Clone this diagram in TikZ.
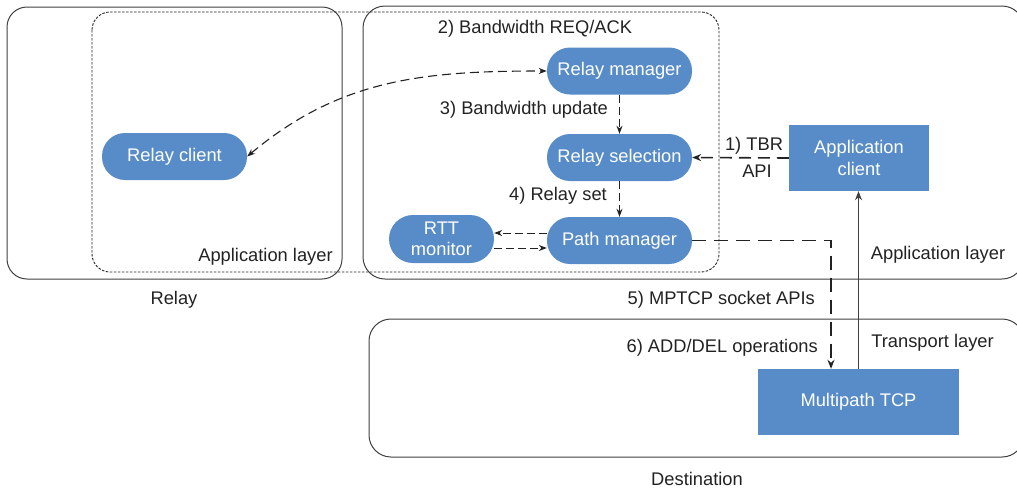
\documentclass[tikz,border=0pt]{standalone}
\usepackage{fontspec}
\setmainfont{Liberation Sans}
\usetikzlibrary{arrows.meta}
\definecolor{boxblue}{RGB}{88,140,200}
\definecolor{frame}{RGB}{64,64,64}
\definecolor{ink}{RGB}{34,34,34}
\begin{document}
\begin{tikzpicture}[x=1pt,y=-1pt,
  every node/.style={font=\fontsize{18.3}{22}\selectfont, text=ink, inner sep=0pt},
  pill/.style={draw=none, fill=boxblue, text=white, minimum width=145pt,
    minimum height=47pt, rounded corners=23pt, align=center},
  block/.style={draw=none, fill=boxblue, text=white, align=center},
  region/.style={draw=frame, line width=1pt},
  flow/.style={draw=ink, line width=1pt, dash pattern=on 8pt off 4pt,
    -{Stealth[length=8pt,width=6pt]}},
  longflow/.style={draw=ink, line width=1.8pt, dash pattern=on 14pt off 8pt},
  tip/.style={-{Stealth[length=9pt,width=7pt]}}
]
\clip (0,0) rectangle (1017,491);
\useasboundingbox (0,0) rectangle (1017,491);

% enclosing regions
\draw[region, rounded corners=20pt] (7,7) rectangle (342,279);
\draw[region, rounded corners=22pt] (363,6) rectangle (1024,279);
\draw[region, rounded corners=22pt] (369,319) rectangle (1024,457);
\draw[draw=ink, line width=0.9pt, dash pattern=on 2.5pt off 1.5pt, rounded corners=18pt]
  (92,12) rectangle (719,272);

% components
\node[pill] (rc) at (174.5,156.5) {Relay client};
\node[pill] (rm) at (619.5,71) {Relay manager};
\node[pill] (rs) at (619.5,157.5) {Relay selection};
\node[pill] (pm) at (619.5,240.5) {Path manager};
\node[pill, minimum width=105pt, minimum height=48pt, rounded corners=24pt,
  font=\fontsize{18.3}{21}\selectfont] (rtt) at (441.5,239) {RTT\\monitor};
\node[block, minimum width=140pt, minimum height=66pt] (ac) at (859,158) {Application\\client};
\node[block, minimum width=201pt, minimum height=66pt] (mt) at (858.5,402) {Multipath TCP};

% labels
\node (relay) at (174,300) {Relay};
\node (dest) at (697,479) {Destination};
\node (applL) at (265.5,257) {Application layer};
\node (applR) at (938,255) {Application layer};
\node (trans) at (932.5,343) {Transport layer};
\node (l2) at (535,29) {2) Bandwidth REQ/ACK};
\node[anchor=east] (l3) at (608,110) {3) Bandwidth update};
\node[anchor=east] (l4) at (607,196) {4) Relay set};
\node[anchor=east] (l5) at (815,300) {5) MPTCP socket APIs};
\node[anchor=east] (l6) at (818,348) {6) ADD/DEL operations};

% connectors
\draw[draw=ink, line width=1.1pt, dash pattern=on 9pt off 5pt,
  {Stealth[length=8pt,width=6pt]}-{Stealth[length=8pt,width=6pt]}]
  (rc.east) to[out=40,in=180] (rm.west);
\draw[flow] (rm.south) -- (rs.north);
\draw[flow] (rs.south) -- (pm.north);
\draw[flow] ([yshift=7.5pt]pm.west) -- ([yshift=6pt]rtt.east);
\draw[flow] ([yshift=-9pt]rtt.east) -- ([yshift=-7.5pt]pm.west);
\draw[draw=ink, line width=1.6pt, dash pattern=on 12pt off 7pt, tip]
  (ac.west) -- node[pos=0.36, align=center, font=\fontsize{18.3}{27}\selectfont] (l1) {1) TBR\\\hspace*{6pt}API} (rs.east);
\coordinate (mtin) at ([xshift=-27.5pt]mt.north);
\draw[longflow, tip] (pm.east) -| (mtin);
\draw[draw=frame, line width=1pt, tip] (mt.north) -- (mt.north |- ac.south);
\end{tikzpicture}
\end{document}
